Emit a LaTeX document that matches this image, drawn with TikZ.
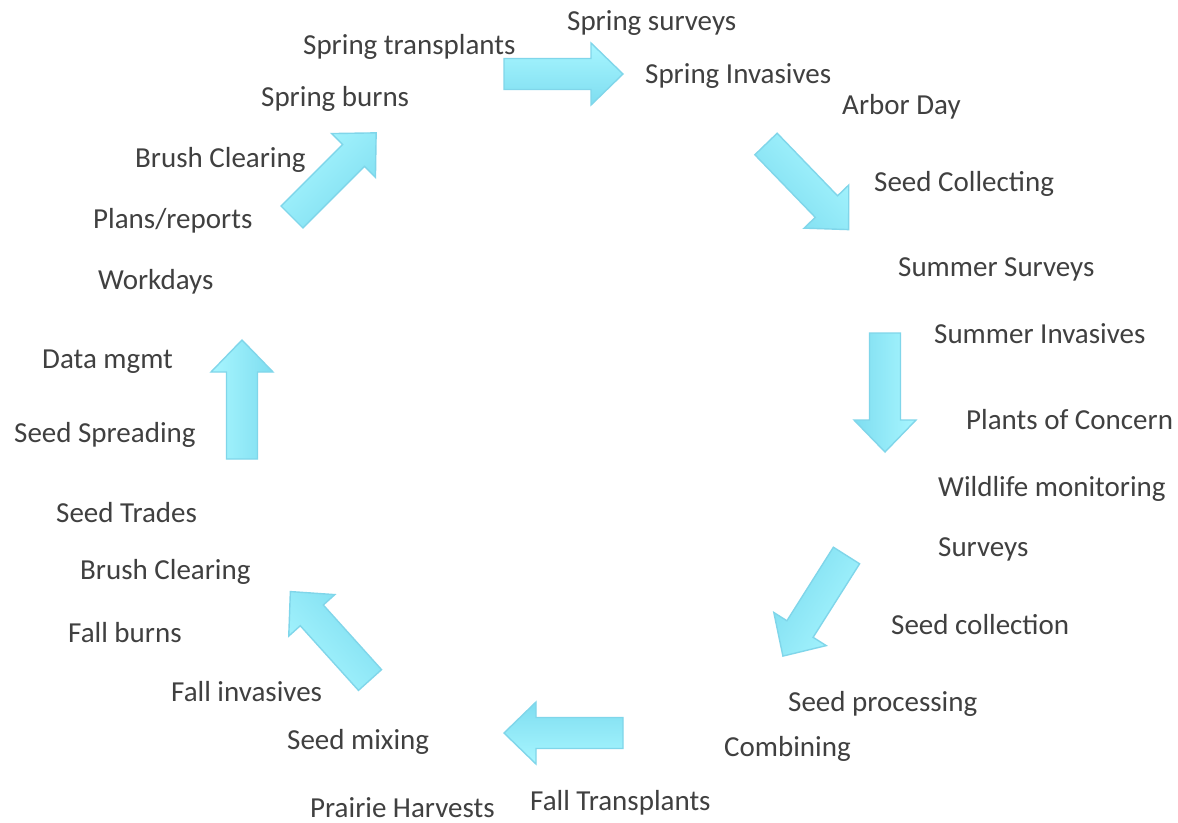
\documentclass[tikz,border=0pt]{standalone}
\usepackage{fontspec}
\setmainfont{Carlito}
\definecolor{txt}{HTML}{404040}
\definecolor{arrlight}{HTML}{A8F6FF}
\definecolor{arrdark}{HTML}{7EDDF0}
\definecolor{arredge}{HTML}{80D6EA}
\tikzset{
  lbl/.style={anchor=base west, inner sep=0pt, text=txt, font=\fontsize{29}{34}\selectfont},
  barr/.style={draw=arredge, line width=1.4pt, line join=miter, top color=arrlight, bottom color=arrdark},
}
\newcommand\blockarr[4]{%
  \begin{scope}[shift={(#2,#3)}]
    \path[barr, shading angle=#4, rotate=#4] (0,15.5) -- (87,15.5) -- (87,31) -- (119,0) -- (87,-31) -- (87,-15.5) -- (0,-15.5) -- cycle;
    \coordinate (#1) at (0,0);
  \end{scope}}
\begin{document}
\begin{tikzpicture}[x=1pt,y=-1pt]
\useasboundingbox (0,0) rectangle (1178,822);
\fill[white] (0,0) rectangle (1178,822);
% arrows
\blockarr{a1}{504}{74}{0}
\blockarr{a2}{292}{217}{45}
\blockarr{a3}{766}{144}{-46}
\blockarr{a4}{885}{333}{-90}
\blockarr{a5}{846.5}{555.5}{237.7}
\blockarr{a6}{623}{733}{180}
\blockarr{a7}{370}{680}{132}
\blockarr{a8}{242}{459}{90}
% labels
\node[lbl] (t1) at (567,30) {Spring surveys};
\node[lbl] (t2) at (303,54) {Spring transplants};
\node[lbl] (t3) at (645,83) {Spring Invasives};
\node[lbl] (t4) at (261,106) {Spring burns};
\node[lbl] (t5) at (842,114) {Arbor Day};
\node[lbl] (t6) at (135,167) {Brush Clearing};
\node[lbl] (t7) at (874,191) {Seed Collecting};
\node[lbl] (t8) at (93,228) {Plans/reports};
\node[lbl] (t9) at (898,276) {Summer Surveys};
\node[lbl] (t10) at (98,289) {Workdays};
\node[lbl] (t11) at (934,343) {Summer Invasives};
\node[lbl] (t12) at (42,368) {Data mgmt};
\node[lbl] (t13) at (966,429) {Plants of Concern};
\node[lbl] (t14) at (14,442) {Seed Spreading};
\node[lbl] (t15) at (938,496) {Wildlife monitoring};
\node[lbl] (t16) at (56,522) {Seed Trades};
\node[lbl] (t17) at (938,556) {Surveys};
\node[lbl] (t18) at (80,579) {Brush Clearing};
\node[lbl] (t19) at (891,634) {Seed collection};
\node[lbl] (t20) at (68,642) {Fall burns};
\node[lbl] (t21) at (171,701) {Fall invasives};
\node[lbl] (t22) at (788,711) {Seed processing};
\node[lbl] (t23) at (287,749) {Seed mixing};
\node[lbl] (t24) at (724,756) {Combining};
\node[lbl] (t25) at (310,817) {Prairie Harvests};
\node[lbl] (t26) at (530,810) {Fall Transplants};
\end{tikzpicture}
\end{document}
